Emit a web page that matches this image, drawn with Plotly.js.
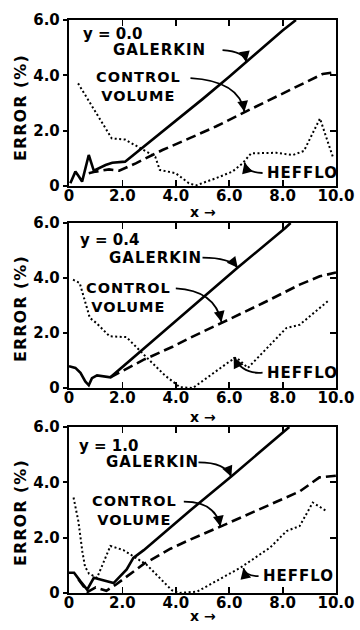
<!DOCTYPE html>
<html><head><meta charset="utf-8">
<script src="https://cdn.plot.ly/plotly-3.0.1.min.js"></script>
<style>html,body{margin:0;padding:0;background:#fff}#chart{width:360px;height:630px}</style>
</head><body><div id="chart"></div>
<script>
// ---- data ----
var panelLabels = ['y = 0.0', 'y = 0.4', 'y = 1.0'];
var xTickVals = [0, 2, 4, 6, 8, 10];
var xTickText = ['0', '2.0', '4.0', '6.0', '8.0', '10.0'];
var yTickVals = [0, 2, 4, 6];
var yTickText = ['0', '2.0', '4.0', '6.0'];

// panel 1 : y = 0.0
var p1GalX = [0.05, 0.24, 0.37, 0.49, 0.74, 0.93, 1.37, 1.62, 2.1, 3, 4, 5, 6, 7, 8, 8.5];
var p1GalY = [0.1, 0.52, 0.34, 0.16, 1.12, 0.55, 0.76, 0.84, 0.88, 1.58, 2.36, 3.14, 3.95, 4.8, 5.62, 6.0];
var p1CvX = [0.74, 1.0, 1.5, 1.88, 2.5, 3.5, 4.5, 5.5, 6.6, 7.5, 8.3, 9.0, 9.5, 10];
var p1CvY = [0.46, 0.52, 0.6, 0.55, 0.82, 1.3, 1.72, 2.15, 2.68, 3.1, 3.47, 3.8, 4.05, 4.12];
var p1HefX = [0.34, 1.6, 2.1, 2.48, 3.23, 3.4, 4.0, 4.49, 4.75, 5.5, 6.12, 6.5, 6.82, 7.76, 8.39, 8.8, 9.4, 9.9];
var p1HefY = [3.71, 1.72, 1.68, 1.48, 1.06, 0.58, 0.46, 0.1, 0.02, 0.28, 0.52, 0.82, 1.18, 1.2, 1.12, 1.27, 2.44, 1.0];

// panel 2 : y = 0.4
var p2GalX = [0, 0.24, 0.43, 0.61, 0.74, 0.86, 1.05, 1.42, 1.55, 3.0, 4.5, 6.3, 8.1, 8.3];
var p2GalY = [0.79, 0.73, 0.55, 0.24, 0.1, 0.36, 0.46, 0.39, 0.39, 1.6, 2.85, 4.36, 5.82, 6.0];
var p2CvX = [1.55, 2.8, 3.9, 4.52, 5.7, 7.27, 8.64, 9.39, 10];
var p2CvY = [0.39, 1.03, 1.51, 1.82, 2.36, 3.09, 3.76, 4.06, 4.2];
var p2HefX = [0.15, 0.4, 0.78, 1.03, 1.52, 2.15, 2.9, 3.6, 4.0, 4.15, 4.64, 6.02, 6.27, 6.7, 8.14, 8.64, 9.76];
var p2HefY = [3.94, 3.82, 2.55, 2.36, 1.88, 1.85, 1.12, 0.45, 0.15, 0.03, 0.0, 0.97, 1.11, 0.73, 2.18, 2.3, 3.21];

// panel 3 : y = 1.0
var p3GalX = [0, 0.19, 0.43, 0.68, 0.93, 1.67, 2.16, 2.41, 2.8, 4.56, 6.11, 8.04, 8.25];
var p3GalY = [0.73, 0.73, 0.42, 0.12, 0.55, 0.36, 0.85, 1.27, 1.55, 3.0, 4.24, 5.82, 6.0];
var p3CvX = [0.35, 0.7, 1.0, 1.4, 1.75, 2.8, 3.8, 4.56, 5.67, 7.03, 8.64, 9.38, 10];
var p3CvY = [0.5, 0.04, 0.2, 0.08, 0.3, 1.05, 1.6, 1.94, 2.4, 2.97, 3.67, 4.18, 4.24];
var p3HefX = [0.17, 0.35, 0.5, 0.6, 0.75, 1.05, 1.55, 2.04, 2.9, 3.52, 3.85, 4.1, 4.8, 6.41, 7.53, 8.15, 8.64, 9.13, 9.63];
var p3HefY = [3.45, 2.6, 1.5, 0.95, 0.7, 0.55, 1.7, 1.55, 1.03, 0.43, 0.1, 0.0, 0.05, 0.91, 1.64, 2.24, 2.42, 3.27, 2.97];

// ---- build ----
var FONT = 'DejaVu Sans, Liberation Sans, Arial, sans-serif';
var series = [
  [p1GalX, p1GalY, p1CvX, p1CvY, p1HefX, p1HefY],
  [p2GalX, p2GalY, p2CvX, p2CvY, p2HefX, p2HefY],
  [p3GalX, p3GalY, p3CvX, p3CvY, p3HefX, p3HefY]
];
var boxes = [[20, 186], [223, 388], [427, 593]];
var left = 69, right = 336, W = 360, H = 630;

var traces = [];
var layout = {
  width: W, height: H, margin: {l: 0, r: 0, t: 0, b: 0},
  paper_bgcolor: '#fff', plot_bgcolor: '#fff', showlegend: false,
  font: {family: FONT, color: '#000'},
  annotations: [], shapes: []
};

function sp(t) { return '<span style="letter-spacing:1px">' + t + '</span>'; }

var geo = [
  {lab: [0.45, 5.5], gal: [1.58, 4.91], galArr: [[5.75, 4.91], [6.57, 4.86], [6.64, 4.48]],
   cv: [2.6, 3.6], cvArr: [[4.55, 3.9], [6.38, 3.8], [6.57, 2.68]],
   hef: [7.35, 0.47], hefArr: [[7.25, 0.47], [6.68, 0.47], [6.57, 0.85]]},
  {lab: [0.33, 5.39], gal: [1.41, 4.74], galArr: [[5.0, 4.74], [6.02, 4.74], [6.32, 4.37]],
   cv: [2.22, 3.3], cvArr: [[4.0, 3.62], [5.46, 3.55], [5.71, 2.4]],
   hef: [7.35, 0.56], hefArr: [[7.25, 0.56], [6.5, 0.49], [6.17, 1.12]]},
  {lab: [0.3, 5.33], gal: [1.3, 4.72], galArr: [[4.85, 4.72], [5.86, 4.72], [6.08, 4.2]],
   cv: [2.45, 2.99], cvArr: [[4.3, 3.3], [5.49, 3.3], [5.67, 2.4]],
   hef: [7.2, 0.61], hefArr: [[7.1, 0.61], [6.6, 0.61], [6.53, 0.9]]}
];
var xTitleY = [212, 417, 616];
var errY = [108, 309, 513];

for (var i = 0; i < 3; i++) {
  var n = i + 1;
  var xa = 'x' + (n === 1 ? '' : n), ya = 'y' + (n === 1 ? '' : n);
  var yo = 'y' + (n + 3);
  var s = series[i];
  var dom = [(H - boxes[i][1]) / H, (H - boxes[i][0]) / H];
  traces.push({x: s[0], y: s[1], xaxis: xa, yaxis: ya, mode: 'lines', line: {color: '#000', width: 2.6}, hoverinfo: 'skip'});
  traces.push({x: s[2], y: s[3], xaxis: xa, yaxis: ya, mode: 'lines', line: {color: '#000', width: 2.6, dash: '10px,5px'}, hoverinfo: 'skip'});
  traces.push({x: s[4], y: s[5], xaxis: xa, yaxis: ya, mode: 'lines', line: {color: '#000', width: 2, dash: '2px,2.5px'}, hoverinfo: 'skip'});
  traces.push({x: [null], y: [null], xaxis: xa, yaxis: yo, mode: 'lines', hoverinfo: 'skip'});

  layout['xaxis' + (n === 1 ? '' : n)] = {
    domain: [left / W, right / W], range: [0, 10], anchor: ya,
    showgrid: false, zeroline: false, showline: true, linewidth: 2.2, linecolor: '#000',
    mirror: 'ticks', ticks: 'inside', ticklen: 6, tickwidth: 1.8, tickcolor: '#000',
    tickvals: xTickVals, ticktext: xTickText, ticklabelstandoff: -5,
    tickfont: {family: FONT, size: 15, weight: 'bold', color: '#000'}, fixedrange: true
  };
  layout['yaxis' + (n === 1 ? '' : n)] = {
    domain: dom, range: [0, 6], anchor: xa,
    showgrid: false, zeroline: false, showline: true, linewidth: 2.2, linecolor: '#000',
    mirror: true, ticks: 'outside', ticklen: 4, tickwidth: 1.8, tickcolor: '#000',
    tickvals: yTickVals, ticktext: yTickText,
    tickfont: {family: FONT, size: 15, weight: 'bold', color: '#000'}, fixedrange: true
  };
  layout['yaxis' + (n + 3)] = {
    overlaying: ya, side: 'right', anchor: xa, range: [0, 6],
    showgrid: false, zeroline: false, showline: false,
    ticks: 'inside', ticklen: 6, tickwidth: 1.8, tickcolor: '#000',
    tickvals: [2, 4], showticklabels: false, fixedrange: true
  };

  var g = geo[i];
  var tf = {family: FONT, size: 15, weight: 'bold', color: '#000'};
  layout.annotations.push({xref: xa, yref: ya, x: g.lab[0], y: g.lab[1], text: panelLabels[i], showarrow: false, xanchor: 'left', yanchor: 'middle', font: tf});
  layout.annotations.push({xref: xa, yref: ya, x: g.gal[0], y: g.gal[1], text: sp('GALERKIN'), showarrow: false, xanchor: 'left', yanchor: 'middle', font: tf});
  layout.annotations.push({xref: xa, yref: ya, x: g.cv[0], y: g.cv[1], text: sp('CONTROL') + '<br>' + sp('VOLUME'), showarrow: false, xanchor: 'center', yanchor: 'middle', align: 'center', font: {family: FONT, size: 14.5, weight: 'bold', color: '#000'}});
  layout.annotations.push({xref: xa, yref: ya, x: g.hef[0], y: g.hef[1], text: sp('HEFFLO'), showarrow: false, xanchor: 'left', yanchor: 'middle', font: tf});

  [g.galArr, g.cvArr, g.hefArr].forEach(function (a) {
    layout.shapes.push({type: 'path', xref: xa, yref: ya,
      path: 'M' + a[0][0] + ',' + a[0][1] + ' Q' + a[1][0] + ',' + a[1][1] + ' ' + a[2][0] + ',' + a[2][1],
      line: {color: '#000', width: 1.8}});
    var dx = (a[2][0] - a[1][0]) * 26.7, dy = -(a[2][1] - a[1][1]) * 27.5;
    var L = Math.sqrt(dx * dx + dy * dy) || 1;
    layout.annotations.push({xref: xa, yref: ya, x: a[2][0], y: a[2][1], text: '', showarrow: true,
      arrowhead: 2, arrowsize: 1.2, arrowwidth: 1.8, arrowcolor: '#000', standoff: 0,
      ax: -dx / L * 7, ay: -dy / L * 7});
  });

  layout.annotations.push({xref: 'paper', yref: 'paper', x: 20 / W, y: 1 - errY[i] / H, text: sp('ERROR (%)'), textangle: -90,
    showarrow: false, xanchor: 'center', yanchor: 'middle', font: {family: FONT, size: 16, weight: 'bold', color: '#000'}});
  layout.annotations.push({xref: 'paper', yref: 'paper', x: 203 / W, y: 1 - xTitleY[i] / H, text: 'x →',
    showarrow: false, xanchor: 'center', yanchor: 'middle', font: {family: FONT, size: 14, weight: 'bold', color: '#000'}});
}

Plotly.newPlot('chart', traces, layout, {staticPlot: true, displayModeBar: false});
</script>
</body></html>
